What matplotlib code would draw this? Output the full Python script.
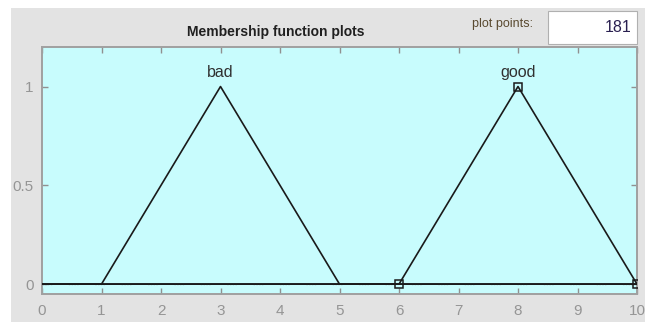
import matplotlib
matplotlib.use("Agg")
import matplotlib.pyplot as plt
from matplotlib.patches import Rectangle

# ---- data ----
mf_names = ["bad", "good"]
mf_params = [[1, 3, 5], [6, 8, 10]]   # triangular MF parameters
x_range = [0, 10]
y_range = [-0.05, 1.2]
x_ticks = [0, 1, 2, 3, 4, 5, 6, 7, 8, 9, 10]
y_ticks = [0, 0.5, 1]
y_tick_labels = ["0", "0.5", "1"]
selected = 1                           # "good" shows parameter markers
plot_points = "181"

plt.rcParams['font.family'] = ['Liberation Sans', 'DejaVu Sans']

W, H = 645, 322
fig = plt.figure(figsize=(W / 100, H / 100), dpi=100)
fig.patch.set_facecolor("white")

# gray panel
fig.patches.append(Rectangle((11 / W, 0), 1 - 11 / W, (H - 8) / H,
                             transform=fig.transFigure, facecolor="#e3e3e3",
                             edgecolor="none", zorder=-5))

ax = fig.add_axes([42 / W, (H - 294) / H, (637 - 42) / W, (294 - 47) / H])
ax.set_facecolor("#c8fcfd")
ax.set_xlim(x_range)
ax.set_ylim(y_range)

gray = "#959595"
for s in ax.spines.values():
    s.set_color("#a0a0a0")
    s.set_linewidth(1.4)

ax.set_xticks(x_ticks)
ax.set_yticks(y_ticks)
ax.set_yticklabels(y_tick_labels)
ax.tick_params(direction="in", top=True, right=True, length=4, width=1,
               color="#909090", labelcolor=gray, labelsize=11)
ax.tick_params(axis="x", pad=7.5)
ax.tick_params(axis="y", pad=6)

# baseline (membership 0 over the whole range)
ax.plot(x_range, [0, 0], color="#202020", lw=1.2, zorder=3)
ax.plot(x_range, [0, 0], color="#7a7a7a", lw=1.0, ls=(0, (1, 1, 1, 1, 1, 1, 1, 12)),
        zorder=4, alpha=0.6)

for i, (name, p) in enumerate(zip(mf_names, mf_params)):
    xs = [x_range[0], p[0], p[1], p[2], x_range[1]]
    ys = [0, 0, 1, 0, 0]
    ax.plot(xs, ys, color="#1a1a1a", lw=1.2, zorder=5)
    ax.text(p[1], 1.05, name, ha="center", va="baseline", color="#303030",
            fontsize=11.5)
    if i == selected:
        ax.plot(p, [0, 1, 0], ls="none", marker="s", ms=5.5, mfc="none",
                mec="#1a1a1a", mew=1.1, zorder=6, clip_on=True)

# title and plot points box
fig.text(276 / W, (H - 32) / H, "Membership function plots", ha="center",
         va="center", fontsize=10, fontweight="bold", color="#202020")
fig.text(502 / W, (H - 24) / H, "plot points:", ha="center", va="center",
         fontsize=9, color="#5a4a30")
fig.patches.append(Rectangle((548 / W, (H - 44) / H), (637 - 548) / W, 33 / H,
                             transform=fig.transFigure, facecolor="white",
                             edgecolor="#b0b0b0", lw=0.8, zorder=1))
fig.text(632 / W, (H - 28) / H, plot_points, ha="right", va="center",
         fontsize=11.5, color="#2a2050", zorder=2)

# white strip clipping the left edge
fig.patches.append(Rectangle((0, 0), 11 / W, 1, transform=fig.transFigure,
                             facecolor="white", edgecolor="none", zorder=10))
fig.patches.append(Rectangle((0, (H - 8) / H), 1, 8 / H, transform=fig.transFigure,
                             facecolor="white", edgecolor="none", zorder=10))

fig.savefig("out.png", dpi=100)
